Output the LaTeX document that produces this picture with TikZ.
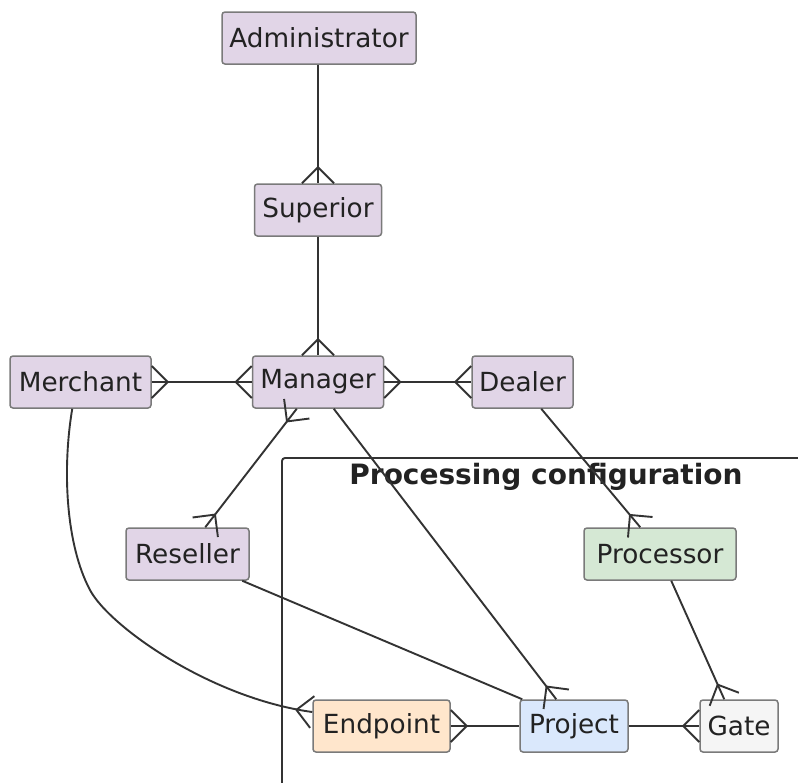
\documentclass[tikz,border=0pt]{standalone}
\usepackage{fontspec}
\setmainfont{DejaVu Sans}
\usetikzlibrary{calc,arrows.meta}
\pgfdeclarearrow{
  name=Crow,
  setup code={
    \pgfarrowssettipend{0pt}
    \pgfarrowssetlineend{0pt}
    \pgfarrowssetbackend{-16pt}
    \pgfarrowssetvisualbackend{-16pt}
    \pgfarrowshullpoint{0pt}{16pt}
    \pgfarrowshullpoint{0pt}{-16pt}
    \pgfarrowshullpoint{-16pt}{0pt}
  },
  drawing code={
    \pgfsetdash{}{0pt}
    \pgfsetroundjoin
    \pgfpathmoveto{\pgfqpoint{0pt}{16pt}}
    \pgfpathlineto{\pgfqpoint{-16pt}{0pt}}
    \pgfpathlineto{\pgfqpoint{0pt}{-16pt}}
    \pgfusepathqstroke
  }
}
\definecolor{cpurple}{HTML}{E1D5E7}
\definecolor{cgreen}{HTML}{D5E8D4}
\definecolor{corange}{HTML}{FFE6CC}
\definecolor{cblue}{HTML}{DAE8FC}
\definecolor{cgray}{HTML}{F5F5F5}
\definecolor{cborder}{HTML}{7A7A7A}
\definecolor{cline}{HTML}{333333}
\definecolor{ctext}{HTML}{222222}
\tikzset{
  entity/.style={draw=cborder, line width=1.5pt, rounded corners=3pt, minimum height=52pt, inner sep=0pt, text=ctext, font=\fontsize{26.3}{30}\selectfont},
  conn/.style={draw=cline, line width=1.9pt},
  clusterbox/.style={draw=cline, line width=1.9pt, rounded corners=3pt},
  clustertitle/.style={font=\fontsize{28}{32}\selectfont\bfseries, text=ctext}
}
\begin{document}
\begin{tikzpicture}[x=1pt,y=-1pt]
\useasboundingbox (0,0) rectangle (798,782);
\clip (0,0) rectangle (798,782);
\fill[white] (0,0) rectangle (798,782);
% cluster
\draw[clusterbox] (282,458) rectangle (840,810);
\node[clustertitle] (ctitle) at (546,477) {Processing configuration};
% nodes
\node[entity, fill=cpurple, minimum width=194pt] (admin) at (319,38) {Administrator};
\node[entity, fill=cpurple, minimum width=127pt] (superior) at (318,210) {Superior};
\node[entity, fill=cpurple, minimum width=131pt] (manager) at (318,382) {Manager};
\node[entity, fill=cpurple, minimum width=141pt] (merchant) at (80.5,382) {Merchant};
\node[entity, fill=cpurple, minimum width=101pt] (dealer) at (522.5,382) {Dealer};
\node[entity, fill=cpurple, minimum width=123pt] (reseller) at (187.5,554) {Reseller};
\node[entity, fill=cgreen, minimum width=152pt] (processor) at (660,554) {Processor};
\node[entity, fill=corange, minimum width=137pt] (endpoint) at (381.5,726) {Endpoint};
\node[entity, fill=cblue, minimum width=108pt] (project) at (574,726) {Project};
\node[entity, fill=cgray, minimum width=78pt] (gate) at (739,726) {Gate};
% connectors
\draw[conn, -Crow] (admin.south -| superior.north) -- (superior.north);
\draw[conn, -Crow] (superior.south) -- (manager.north);
\draw[conn, Crow-Crow] (merchant.east) -- (manager.west);
\draw[conn, Crow-Crow] (manager.east) -- (dealer.west);
\draw[conn, Crow-Crow] ($(manager.south west)+(45,0)$) -- ($(reseller.north west)+(80,0)$);
\draw[conn, -Crow] ($(manager.south west)+(82,0)$) -- ($(project.north west)+(37,0)$);
\draw[conn, -Crow] ($(dealer.south west)+(70,0)$) -- ($(processor.north west)+(57,0)$);
\draw[conn, -Crow] ($(processor.south west)+(88,0)$) -- ($(gate.north west)+(25,0)$);
\draw[conn] ($(reseller.south west)+(117,0)$) -- ($(project.north west)+(3,0)$);
\draw[conn, -Crow] ($(merchant.south west)+(63,0)$) .. controls (62,470) and (66,545) .. (90,590) .. controls (109,626) and (210,698) .. ($(endpoint.west)+(0,-14)$);
\draw[conn, Crow-] (endpoint.east) -- (project.west);
\draw[conn, -Crow] (project.east) -- (gate.west);
\end{tikzpicture}
\end{document}
